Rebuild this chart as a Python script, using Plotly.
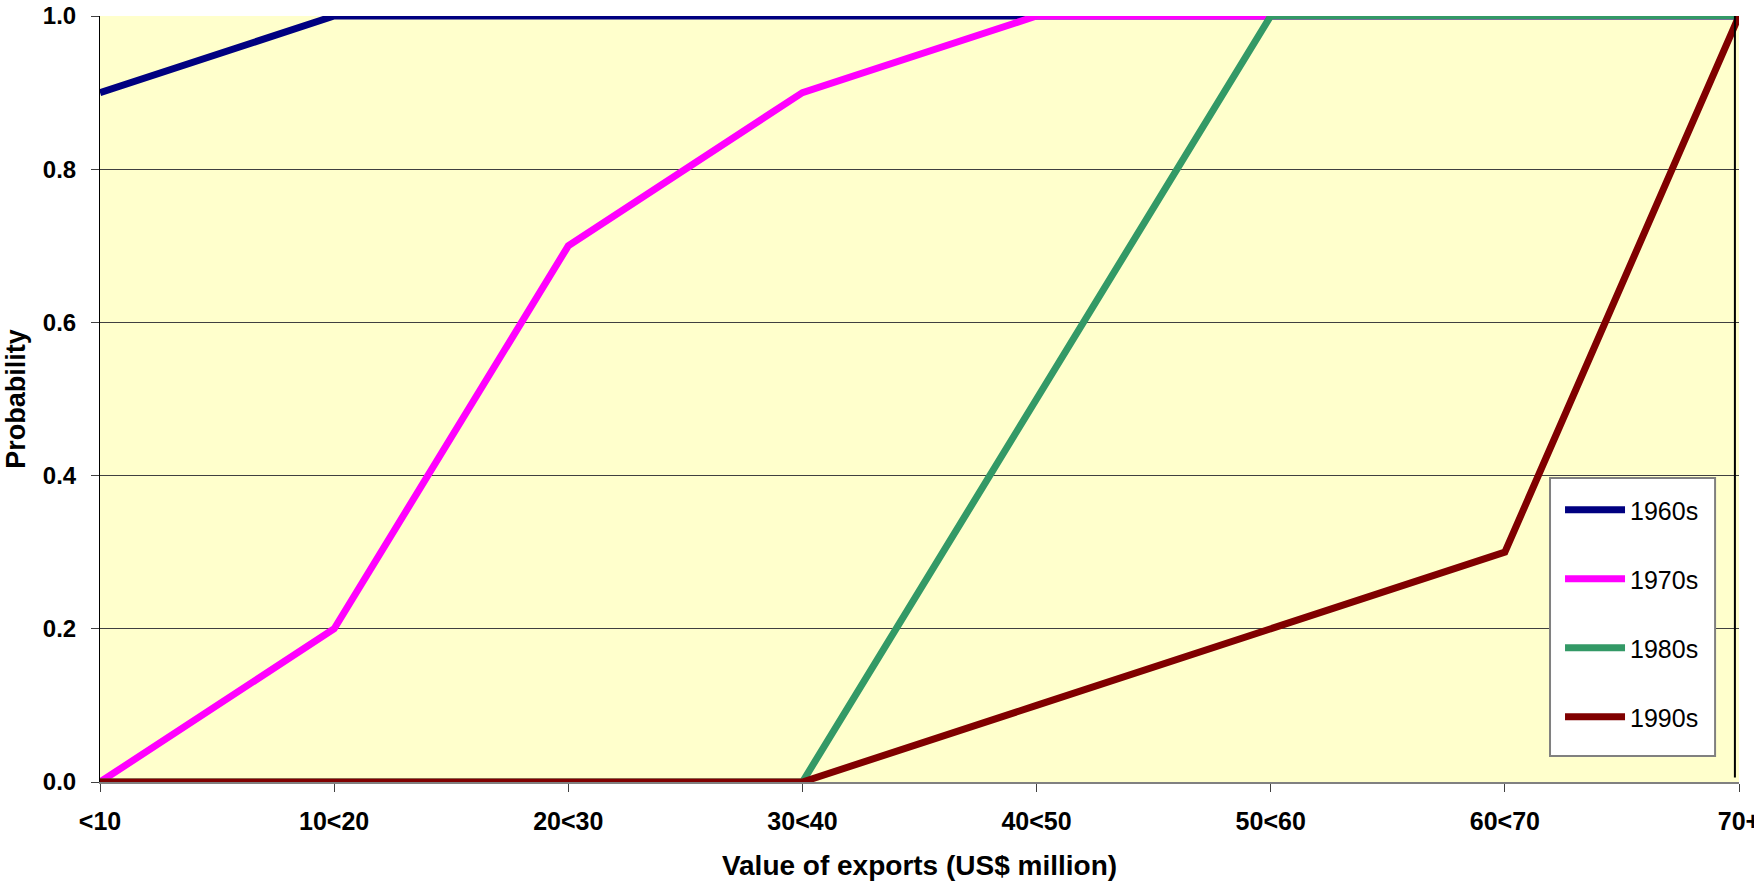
import plotly.graph_objects as go

# Export-value bands on the category axis
categories = ["<10", "10<20", "20<30", "30<40", "40<50", "50<60", "60<70", "70+"]

# Cumulative probability per decade
p_1960s = [0.9, 1.0, 1.0, 1.0, 1.0, 1.0, 1.0, 1.0]
p_1970s = [0.0, 0.2, 0.7, 0.9, 1.0, 1.0, 1.0, 1.0]
p_1980s = [0.0, 0.0, 0.0, 0.0, 0.5, 1.0, 1.0, 1.0]
p_1990s = [0.0, 0.0, 0.0, 0.0, 0.1, 0.2, 0.3, 1.0]

y_ticks = [0.0, 0.2, 0.4, 0.6, 0.8, 1.0]
y_tick_text = ["0.0", "0.2", "0.4", "0.6", "0.8", "1.0"]

series = [
    ("1960s", p_1960s, "#000080"),
    ("1970s", p_1970s, "#FF00FF"),
    ("1980s", p_1980s, "#339966"),
    ("1990s", p_1990s, "#800000"),
]

FONT = "Liberation Sans, Arial, sans-serif"

fig = go.Figure()
for i, (name, vals, color) in enumerate(series):
    fig.add_trace(go.Scatter(
        x=categories, y=vals, name=name, mode="lines",
        line=dict(color=color, width=7),
        legendgroup=f"g{i}",
        cliponaxis=False,
    ))

# white framed panel behind the legend entries
fig.add_shape(type="rect", xref="paper", yref="paper",
              x0=0.8847, x1=0.9854, y0=0.0339, y1=0.3969,
              fillcolor="white", line=dict(color="#808080", width=2),
              layer="above")

# thin vertical rule at the right end of the plotting area
fig.add_shape(type="line", xref="paper", yref="paper",
              x0=0.9975, x1=0.9975, y0=0.006, y1=1.0,
              line=dict(color="black", width=2), layer="above")

fig.update_layout(
    width=1754, height=881,
    margin=dict(l=100, r=15, t=16, b=99),
    paper_bgcolor="white",
    plot_bgcolor="#FFFFCC",
    font=dict(family=FONT, color="black"),
    showlegend=True,
    legend=dict(
        x=0.8908, y=0.3851, xanchor="left", yanchor="top",
        bgcolor="rgba(0,0,0,0)", borderwidth=0,
        font=dict(family=FONT, size=25, color="black"),
        tracegroupgap=33.5,
        itemwidth=60,
    ),
    xaxis=dict(
        type="category",
        range=[0, len(categories) - 1],
        automargin=False,
        showgrid=False,
        showline=True, linecolor="#808080", linewidth=2,
        ticks="outside", ticklen=8, tickcolor="#404040",
        tickfont=dict(family=FONT, size=25, color="black", weight="bold"),
        ticklabelstandoff=8,
        title=dict(text="<b>Value of exports (US$ million)</b>",
                   font=dict(family=FONT, size=28, color="black"),
                   standoff=32),
        zeroline=False,
    ),
    yaxis=dict(
        range=[0, 1],
        automargin=False,
        tickvals=y_ticks, ticktext=y_tick_text,
        showgrid=True, gridcolor="#404040", gridwidth=1,
        showline=True, linecolor="black", linewidth=1,
        ticks="outside", ticklen=8, tickcolor="#404040",
        tickfont=dict(family=FONT, size=24, color="black", weight="bold"),
        ticklabelstandoff=10,
        title=dict(text="<b>Probability</b>",
                   font=dict(family=FONT, size=27, color="black"),
                   standoff=9),
        zeroline=False,
    ),
)

fig.write_html("out.html")
